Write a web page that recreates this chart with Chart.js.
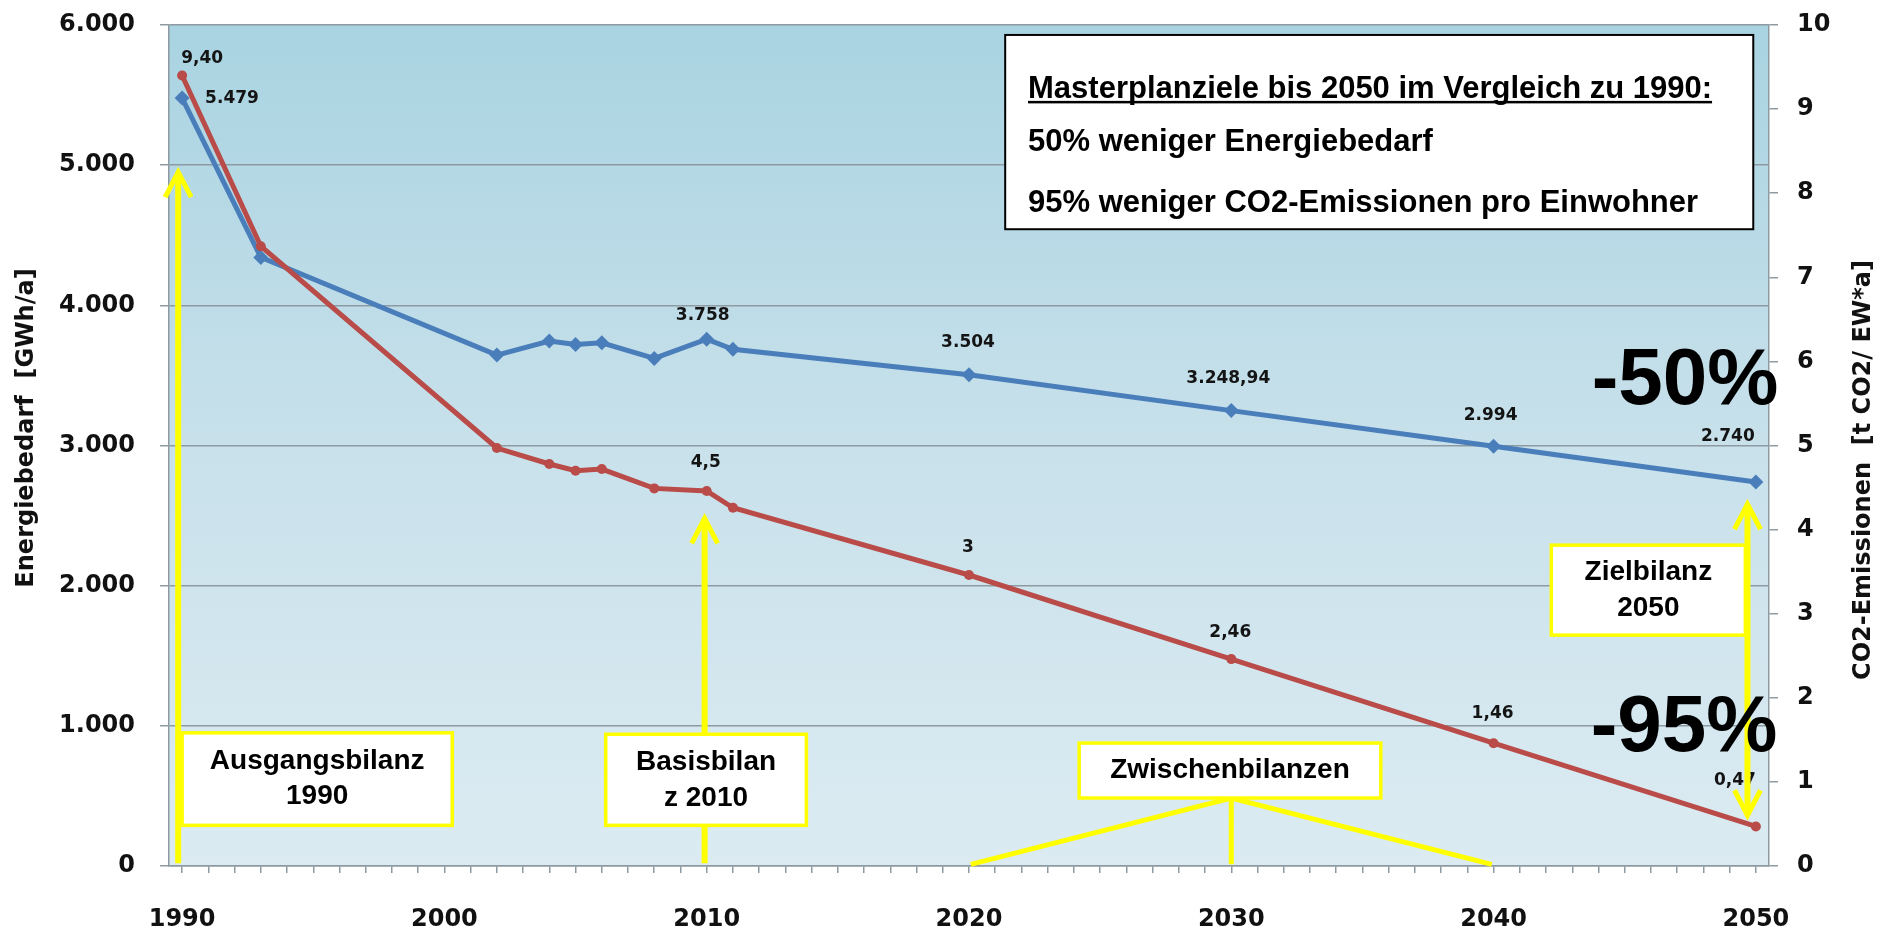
<!DOCTYPE html>
<html lang="de">
<head>
<meta charset="utf-8">
<title>Energiebedarf und CO2-Emissionen 1990 - 2050</title>
<script src="https://cdn.jsdelivr.net/npm/chart.js@4.4.1/dist/chart.umd.min.js"></script>
<style>
  html, body { margin: 0; padding: 0; background: #fff; }
  #wrap { width: 1888px; height: 934px; }
</style>
</head>
<body>
<div id="wrap"><canvas id="chart" width="1888" height="934"></canvas></div>
<script>
// Stützjahre
var years = [1990, 1993, 2002, 2004, 2005, 2006, 2008, 2010, 2011, 2020, 2030, 2040, 2050];
// Energiebedarf [GWh/a]
var energie = [5479, 4342, 3645, 3745, 3721, 3733, 3621, 3758, 3686, 3504, 3248.94, 2994, 2740];
// CO2-Emissionen [t CO2 / EW*a]
var co2 = [9.40, 7.37, 4.97, 4.78, 4.70, 4.72, 4.49, 4.46, 4.26, 3.46, 2.46, 1.46, 0.47];
// Achsen
var xTickLabels = [1990, 2000, 2010, 2020, 2030, 2040, 2050];
var yTicksEnergie = [0, 1000, 2000, 3000, 4000, 5000, 6000];
var yTicksCo2 = [0, 1, 2, 3, 4, 5, 6, 7, 8, 9, 10];

// Datenbeschriftungen: Punktindex, Nachkommastellen, Versatz in px
var energieLabels = [
  { i: 0, dec: 0, dx: 23, dy: 1, align: 'left' },
  { i: 7, dec: 0, dx: -4, dy: -24 },
  { i: 9, dec: 0, dx: -1, dy: -32 },
  { i: 10, dec: 2, dx: -3, dy: -32 },
  { i: 11, dec: 0, dx: -3, dy: -31 },
  { i: 12, dec: 0, dx: -28, dy: -45 }
];
var co2Labels = [
  { i: 0, dec: 2, dx: 20, dy: -17 },
  { i: 7, dec: 1, dx: -1, dy: -28 },
  { i: 9, dec: 0, dx: -1, dy: -27 },
  { i: 10, dec: 2, dx: -1, dy: -27 },
  { i: 11, dec: 2, dx: -1, dy: -30 },
  { i: 12, dec: 2, dx: -21, dy: -46 }
];

var BLAU = '#4a7ebb';
var ROT = '#b94b48';
var GELB = '#ffff00';
var GRAU = '#8e9aa1';
var TICKFONT = { family: "'DejaVu Sans', Verdana, sans-serif", size: 24, weight: 'bold' };
var ARIAL = "'Liberation Sans', Arial, sans-serif";

// 1234.5 -> "1.234,5"
function fmt(v, dec) {
  var parts = v.toFixed(dec).split('.');
  parts[0] = parts[0].replace(/\B(?=(\d{3})+(?!\d))/g, '.');
  return parts.join(',');
}

function fixTicks(list) {
  return function (axis) {
    axis.ticks = list.map(function (v) { return { value: v }; });
  };
}

// feste Breite der y-Achsen, ohne Zusatzabstand oben/unten
function fixWidth(w) {
  return function (axis) {
    axis.width = w;
    axis.paddingTop = 0;
    axis.paddingBottom = 0;
  };
}

// Hintergrund der Zeichenfläche
var hintergrund = {
  id: 'hintergrund',
  beforeDraw: function (chart) {
    var ctx = chart.ctx, a = chart.chartArea;
    var g = ctx.createLinearGradient(0, a.top, 0, a.bottom);
    g.addColorStop(0, '#a9d3e1');
    g.addColorStop(0.5, '#c8e1eb');
    g.addColorStop(1, '#dcebf2');
    ctx.save();
    ctx.fillStyle = g;
    ctx.fillRect(a.left, a.top, a.right - a.left, a.bottom - a.top);
    ctx.restore();
  }
};

function pfeilSpitze(ctx, x, y, dir) {
  // dir = 1: Spitze oben, dir = -1: Spitze unten
  ctx.beginPath();
  ctx.moveTo(x - 13, y + dir * 25);
  ctx.lineTo(x, y);
  ctx.lineTo(x + 13, y + dir * 25);
  ctx.stroke();
}

function kasten(ctx, x1, y1, x2, y2, rand, breite) {
  ctx.fillStyle = '#fff';
  ctx.fillRect(x1, y1, x2 - x1, y2 - y1);
  ctx.strokeStyle = rand;
  ctx.lineWidth = breite;
  ctx.strokeRect(x1, y1, x2 - x1, y2 - y1);
}

function zeilen(ctx, lines, cx, cy, abstand) {
  ctx.fillStyle = '#000';
  ctx.textAlign = 'center';
  ctx.textBaseline = 'middle';
  lines.forEach(function (t, k) {
    ctx.fillText(t, cx, cy + (k - (lines.length - 1) / 2) * abstand);
  });
}

// Datenbeschriftungen, Hinweiskästen, Pfeile
var markierungen = {
  id: 'markierungen',
  afterDatasetsDraw: function (chart) {
    var ctx = chart.ctx;
    var xs = chart.scales.x, ys = chart.scales.y;
    var X = function (v) { return xs.getPixelForValue(v); };
    var Y = function (v) { return ys.getPixelForValue(v); };
    ctx.save();

    // Werte an den Punkten
    ctx.font = "bold 17px 'DejaVu Sans', Verdana, sans-serif";
    ctx.fillStyle = '#141414';
    ctx.textBaseline = 'middle';
    [[1, energieLabels, energie], [0, co2Labels, co2]].forEach(function (s) {
      var meta = chart.getDatasetMeta(s[0]);
      s[1].forEach(function (l) {
        var p = meta.data[l.i];
        ctx.textAlign = l.align || 'center';
        ctx.fillText(fmt(s[2][l.i], l.dec), p.x + l.dx, p.y + l.dy);
      });
    });

    ctx.strokeStyle = GELB;
    ctx.lineJoin = 'miter';
    ctx.lineCap = 'butt';

    // Ausgangsbilanz 1990
    ctx.lineWidth = 6;
    ctx.beginPath();
    ctx.moveTo(X(1989.85), Y(20));
    ctx.lineTo(X(1989.85), Y(4950));
    ctx.stroke();
    ctx.lineWidth = 5;
    pfeilSpitze(ctx, X(1989.85), Y(4950), 1);

    // Basisbilanz 2010
    ctx.lineWidth = 6;
    ctx.beginPath();
    ctx.moveTo(X(2009.92), Y(20));
    ctx.lineTo(X(2009.92), Y(2480));
    ctx.stroke();
    ctx.lineWidth = 5;
    pfeilSpitze(ctx, X(2009.92), Y(2480), 1);

    // Zwischenbilanzen
    ctx.lineWidth = 5;
    ctx.beginPath();
    ctx.moveTo(X(2020.07), Y(12)); ctx.lineTo(X(2030), Y(485)); ctx.lineTo(X(2039.93), Y(12));
    ctx.moveTo(X(2030), Y(485)); ctx.lineTo(X(2030), Y(12));
    ctx.stroke();

    // Zielbilanz 2050, Doppelpfeil
    ctx.lineWidth = 6;
    ctx.beginPath();
    ctx.moveTo(X(2049.68), Y(362));
    ctx.lineTo(X(2049.68), Y(2581));
    ctx.stroke();
    ctx.lineWidth = 5;
    pfeilSpitze(ctx, X(2049.68), Y(2581), 1);
    pfeilSpitze(ctx, X(2049.68), Y(362), -1);

    ctx.font = 'bold 28px ' + ARIAL;
    kasten(ctx, X(1990.0), Y(950), X(2000.3), Y(290), GELB, 3.5);
    zeilen(ctx, ['Ausgangsbilanz', '1990'], (X(1990.0) + X(2000.3)) / 2, (Y(950) + Y(290)) / 2, 35);

    kasten(ctx, X(2006.15), Y(940), X(2013.8), Y(290), GELB, 3.5);
    zeilen(ctx, ['Basisbilan', 'z 2010'], (X(2006.15) + X(2013.8)) / 2, (Y(940) + Y(290)) / 2, 36);

    kasten(ctx, X(2024.2), Y(877), X(2035.7), Y(485), GELB, 3.5);
    zeilen(ctx, ['Zwischenbilanzen'], (X(2024.2) + X(2035.7)) / 2, (Y(877) + Y(485)) / 2, 0);

    kasten(ctx, X(2042.2), Y(2289), X(2049.6), Y(1647), GELB, 3.5);
    zeilen(ctx, ['Zielbilanz', '2050'], (X(2042.2) + X(2049.6)) / 2, (Y(2289) + Y(1647)) / 2, 36);

    // -50% / -95%
    ctx.font = 'bold 80px ' + ARIAL;
    zeilen(ctx, ['-50%'], X(2047.3), Y(3457), 0);
    zeilen(ctx, ['-95%'], X(2047.26), Y(976), 0);

    // Masterplanziele
    kasten(ctx, X(2021.38), Y(5929), X(2049.9), Y(4543), '#000', 2);
    ctx.font = 'bold 31px ' + ARIAL;
    ctx.fillStyle = '#000';
    ctx.textAlign = 'left';
    ctx.textBaseline = 'alphabetic';
    var tx = X(2022.25);
    var titel = 'Masterplanziele bis 2050 im Vergleich zu 1990:';
    ctx.fillText(titel, tx, Y(5480));
    ctx.fillRect(tx, Y(5480) + 3, ctx.measureText(titel).width, 2.5);
    ctx.fillText('50% weniger Energiebedarf', tx, Y(5100));
    ctx.fillText('95% weniger CO2-Emissionen pro Einwohner', tx, Y(4665));

    ctx.restore();
  },
  afterDraw: function (chart) {
    // Achsentitel
    var ctx = chart.ctx;
    ctx.save();
    ctx.font = "bold 24px 'DejaVu Sans', Verdana, sans-serif";
    ctx.fillStyle = '#111';
    ctx.textAlign = 'center';
    ctx.textBaseline = 'middle';
    ctx.translate(27, 428);
    ctx.rotate(-Math.PI / 2);
    ctx.fillText('Energiebedarf  [GWh/a]', 0, 0);
    ctx.restore();
    ctx.save();
    ctx.font = "bold 24px 'DejaVu Sans', Verdana, sans-serif";
    ctx.fillStyle = '#111';
    ctx.textAlign = 'center';
    ctx.textBaseline = 'middle';
    ctx.translate(1864, 470);
    ctx.rotate(-Math.PI / 2);
    ctx.fillText('CO2-Emissionen  [t CO2/ EW*a]', 0, 0);
    ctx.restore();
  }
};

new Chart(document.getElementById('chart'), {
  type: 'line',
  data: {
    datasets: [{
      label: 'CO2-Emissionen',
      data: years.map(function (j, k) { return { x: j, y: co2[k] }; }),
      yAxisID: 'y2',
      borderColor: ROT,
      backgroundColor: ROT,
      borderWidth: 5,
      pointStyle: 'circle',
      pointRadius: 5,
      pointBorderWidth: 0,
      tension: 0
    }, {
      label: 'Energiebedarf',
      data: years.map(function (j, k) { return { x: j, y: energie[k] }; }),
      yAxisID: 'y',
      borderColor: BLAU,
      backgroundColor: BLAU,
      borderWidth: 5,
      pointStyle: 'rectRot',
      pointRadius: 7.5,
      pointBorderWidth: 0,
      tension: 0
    }]
  },
  options: {
    responsive: false,
    animation: false,
    devicePixelRatio: 1,
    layout: { padding: { top: 25, left: 0, right: 0, bottom: 0 } },
    plugins: { legend: { display: false }, tooltip: { enabled: false } },
    scales: {
      x: {
        type: 'linear',
        min: xTickLabels[0] - 0.5,
        max: xTickLabels[xTickLabels.length - 1] + 0.5,
        afterBuildTicks: function (axis) {
          var t = [];
          for (var j = xTickLabels[0]; j <= xTickLabels[xTickLabels.length - 1]; j++) t.push({ value: j });
          axis.ticks = t;
        },
        afterFit: function (axis) { axis.height = 68; },
        grid: { drawOnChartArea: false, tickLength: 7, color: GRAU, lineWidth: 1.5 },
        border: { color: GRAU, width: 1.5 },
        ticks: {
          autoSkip: false, maxRotation: 0, padding: 32, color: '#111', font: TICKFONT,
          callback: function (v) { return xTickLabels.indexOf(v) >= 0 ? String(v) : ''; }
        }
      },
      y: {
        position: 'left',
        min: yTicksEnergie[0],
        max: yTicksEnergie[yTicksEnergie.length - 1],
        afterBuildTicks: fixTicks(yTicksEnergie),
        afterFit: fixWidth(169),
        grid: { color: GRAU, lineWidth: 1.5, tickLength: 9 },
        border: { color: GRAU, width: 1.5 },
        ticks: { padding: 25, color: '#111', font: TICKFONT, callback: function (v) { return fmt(v, 0); } }
      },
      y2: {
        position: 'right',
        min: yTicksCo2[0],
        max: yTicksCo2[yTicksCo2.length - 1],
        afterBuildTicks: fixTicks(yTicksCo2),
        afterFit: fixWidth(119),
        grid: { drawOnChartArea: false, color: GRAU, lineWidth: 1.5, tickLength: 9 },
        border: { color: GRAU, width: 1.5 },
        ticks: { padding: 19, color: '#111', font: TICKFONT }
      }
    }
  },
  plugins: [hintergrund, markierungen]
});
</script>
</body>
</html>
